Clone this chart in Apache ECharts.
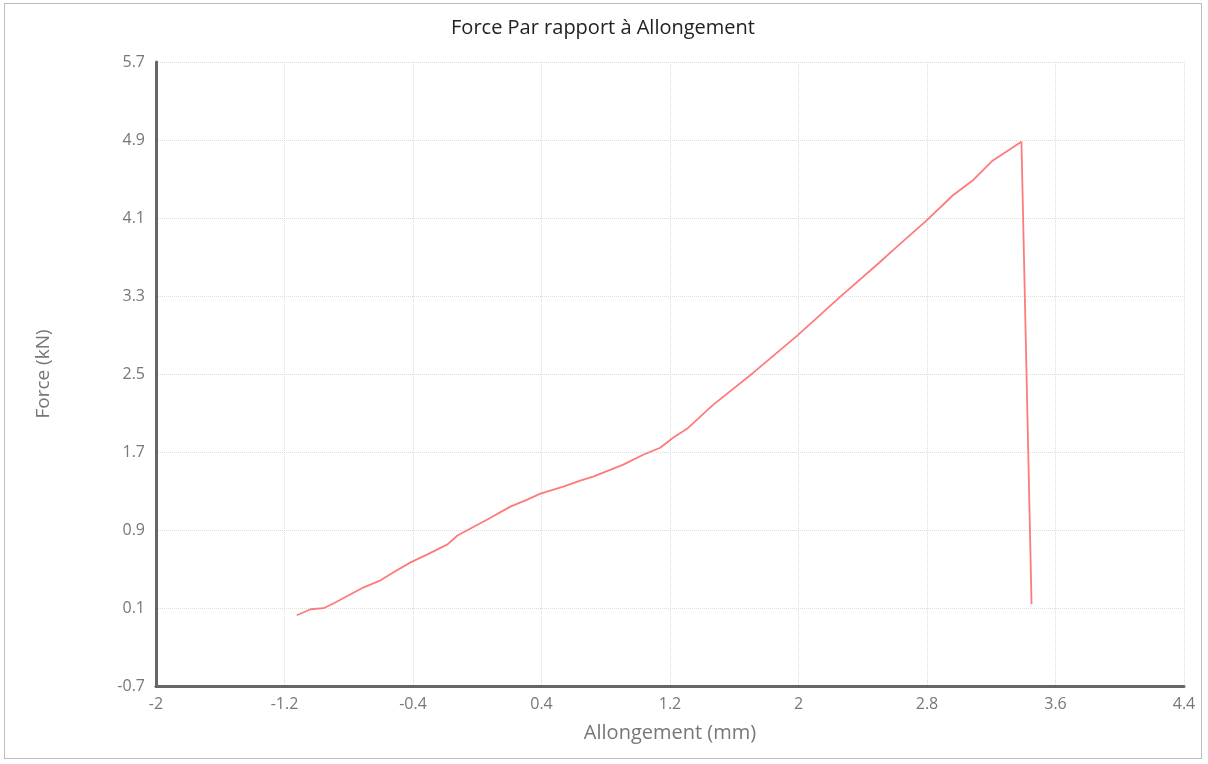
<!DOCTYPE html>
<html>
<head>
    <meta charset="utf-8">
    <title>Force Par rapport à Allongement</title>
    <script src="https://cdn.jsdelivr.net/npm/echarts@6/dist/echarts.min.js"></script>
    <style>
        html, body { margin: 0; padding: 0; background: #fff; }
        #chart {
            position: absolute;
            left: 4px; top: 3px;
            width: 1198px; height: 756px;
            border: 1px solid #bdbdbd;
            box-sizing: border-box;
        }
    </style>
</head>
<body>
    <div id="chart"></div>
    <script type="text/javascript">
        // allongement (mm)
        const allongement = [-1.124, -1.037, -0.956, -0.881, -0.788, -0.707, -0.602, -0.521, -0.415, -0.310,
            -0.185, -0.123, -0.042, 0.063, 0.206, 0.312, 0.393, 0.536, 0.641, 0.722,
            0.909, 1.033, 1.139, 1.219, 1.306, 1.387, 1.468, 1.717, 1.996, 2.257,
            2.506, 2.587, 2.798, 2.960, 3.084, 3.208, 3.388, 3.451];
        // force (kN)
        const force = [0.026, 0.087, 0.098, 0.159, 0.241, 0.312, 0.384, 0.466, 0.568, 0.650,
            0.752, 0.844, 0.916, 1.008, 1.140, 1.212, 1.273, 1.345, 1.406, 1.447,
            1.570, 1.672, 1.744, 1.846, 1.938, 2.061, 2.183, 2.511, 2.899, 3.288,
            3.646, 3.768, 4.075, 4.331, 4.484, 4.688, 4.883, 0.138];

        const chart = echarts.init(document.getElementById('chart'));
        const font = "'Open Sans', 'Noto Sans', sans-serif";

        const option = {
            animation: false,
            title: {
                text: 'Force Par rapport à Allongement',
                left: 'center',
                top: 9,
                textStyle: { fontFamily: font, fontSize: 20, fontWeight: 'normal', color: '#222' }
            },
            grid: { left: 151, right: 17, top: 58, bottom: 72 },
            xAxis: {
                type: 'value',
                min: -2, max: 4.4, interval: 0.8,
                name: 'Allongement (mm)',
                nameLocation: 'middle',
                nameGap: 37,
                nameTextStyle: { fontFamily: font, fontSize: 20, color: '#777' },
                axisLine: { show: true, onZero: false, lineStyle: { color: '#666', width: 3 } },
                axisTick: { show: false },
                axisLabel: { fontFamily: font, fontSize: 16, color: '#777', margin: 10 },
                splitLine: { show: true, lineStyle: { color: '#ddd', type: 'dotted', width: 1 } }
            },
            yAxis: {
                type: 'value',
                min: -0.7, max: 5.7, interval: 0.8,
                name: 'Force (kN)',
                nameLocation: 'middle',
                nameGap: 103,
                nameTextStyle: { fontFamily: font, fontSize: 19, color: '#777' },
                axisLine: { show: true, onZero: false, lineStyle: { color: '#666', width: 3 } },
                axisTick: { show: false },
                axisLabel: { fontFamily: font, fontSize: 16, color: '#777', margin: 11 },
                splitLine: { show: true, lineStyle: { color: '#ddd', type: 'dotted', width: 1 } }
            },
            series: [{
                name: 'Force',
                type: 'line',
                data: allongement.map(function (x, i) { return [x, force[i]]; }),
                showSymbol: false,
                lineStyle: { color: '#ff7a7a', width: 1.8 }
            }]
        };
        chart.setOption(option);
    </script>
</body>
</html>
